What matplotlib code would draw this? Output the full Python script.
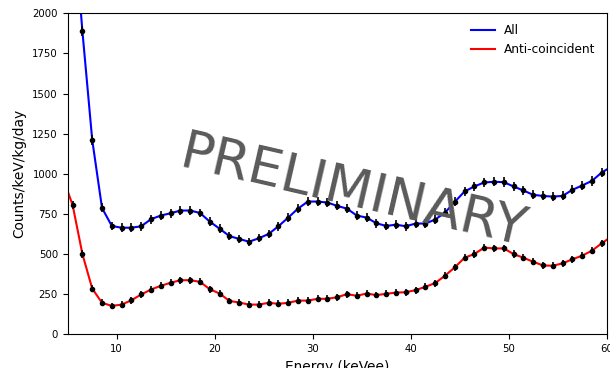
import numpy as np
import matplotlib
matplotlib.use("Agg")
import matplotlib.pyplot as plt

# energy bin centres (keVee)
energy = np.arange(4.5, 61.0, 1.0)

# all events
rate_all = [3500, 2650, 1888, 1212, 787, 675, 664, 664, 673, 717,
            740, 754, 771, 771, 756, 702, 658, 612, 594, 577,
            598, 625, 673, 727, 783, 827, 827, 821, 800, 783,
            740, 727, 692, 675, 683, 673, 690, 690, 715, 758,
            825, 890, 921, 946, 950, 948, 921, 896, 869, 862,
            858, 862, 900, 927, 956, 1008, 1045]
err_all = [40, 36, 31, 30, 28, 27, 27, 27, 27, 27,
           27, 27, 28, 28, 27, 27, 27, 26, 26, 26,
           26, 27, 27, 27, 28, 28, 28, 28, 28, 28,
           27, 27, 27, 27, 27, 27, 27, 27, 27, 28,
           28, 28, 29, 29, 29, 29, 29, 28, 28, 28,
           28, 28, 28, 29, 29, 29, 30]

# anti-coincident events
rate_anti = [975, 806, 500, 285, 196, 177, 185, 212, 248, 279,
             302, 321, 337, 337, 327, 281, 254, 208, 198, 185,
             185, 196, 190, 196, 210, 210, 221, 221, 231, 250,
             240, 254, 244, 252, 260, 262, 275, 296, 319, 365,
             417, 477, 500, 540, 535, 535, 500, 477, 452, 429,
             427, 442, 467, 490, 521, 567, 610]
err_anti = [26, 25, 24, 22, 21, 21, 21, 21, 21, 22,
            22, 22, 22, 22, 22, 22, 21, 21, 21, 21,
            21, 21, 21, 21, 21, 21, 21, 21, 21, 21,
            21, 21, 21, 21, 21, 21, 21, 21, 22, 22,
            22, 23, 23, 23, 23, 23, 23, 23, 22, 22,
            22, 22, 22, 23, 23, 23, 24]

fig = plt.figure(figsize=(6.1, 3.68), dpi=100)
ax = fig.add_axes([0.111, 0.0916, 0.8835, 0.8723])

ax.plot(energy, rate_all, "-", color="b", linewidth=1.5, label="All")
ax.plot(energy, rate_anti, "-", color="r", linewidth=1.5, label="Anti-coincident")
ax.errorbar(energy, rate_all, yerr=err_all, fmt="k.", elinewidth=1.2, capsize=0)
ax.errorbar(energy, rate_anti, yerr=err_anti, fmt="k.", elinewidth=1.2, capsize=0)

ax.set_xlim(5, 60)
ax.set_ylim(0, 2000)
ax.set_xticks([10, 20, 30, 40, 50, 60])
ax.set_yticks(range(0, 2001, 250))
ax.tick_params(labelsize=7.3)
ax.set_xlabel("Energy (keVee)", fontsize=9.9)
ax.set_ylabel("Counts/keV/kg/day", fontsize=9.9)

ax.legend(loc="upper right", frameon=False, fontsize=8.7)

# watermark
ax.text(16.2, 1040, "PRELIMINARY", fontsize=38.5, color="#5a5a5a",
        rotation=-13, rotation_mode="anchor", ha="left", va="baseline",
        zorder=10)

plt.savefig("out.png", dpi=100)
